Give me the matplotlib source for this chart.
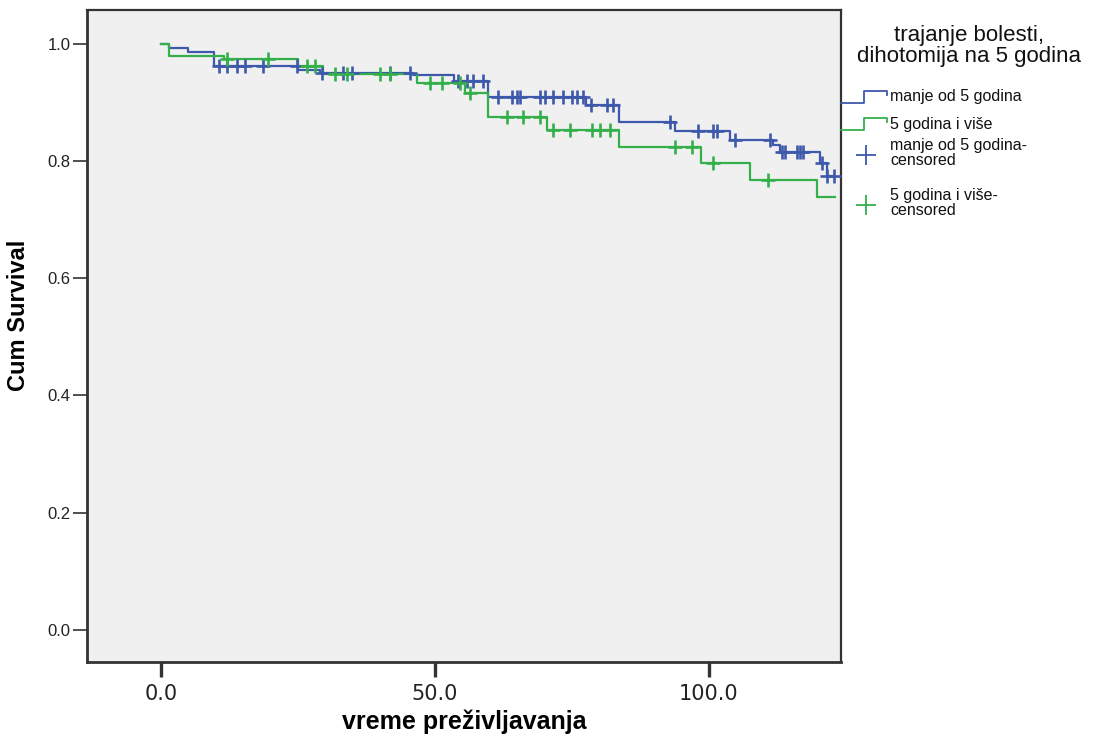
import numpy as np
import matplotlib
matplotlib.use("Agg")
import matplotlib.pyplot as plt
from matplotlib.lines import Line2D

# Kaplan-Meier estimates: event times and survival after each event
blue_event_t = [1.5, 4.9, 9.6, 25.0, 29.0, 46.0, 53.5, 59.7, 77.5, 83.5,
                93.8, 103.8, 111.7, 113.0, 120.3, 121.5]
blue_surv = [0.993, 0.987, 0.962, 0.956, 0.951, 0.947, 0.936, 0.910, 0.896, 0.866,
             0.851, 0.836, 0.828, 0.816, 0.797, 0.774]
blue_end = 122.8
blue_censor_t = [10.5, 12.0, 13.9, 15.3, 18.6, 24.8, 29.4, 33.2, 34.9, 41.8, 45.4,
                 54.2, 55.8, 56.9, 58.8, 61.5, 64.1, 65.0, 65.5, 69.2, 70.1, 71.5,
                 73.4, 75.0, 75.9, 77.0, 78.5, 81.4, 82.5, 92.9, 98.0, 100.7, 101.5,
                 104.7, 111.2, 113.3, 113.9, 116.1, 116.6, 117.2, 120.6, 121.5, 122.8]

green_event_t = [1.5, 11.5, 25.0, 29.5, 46.7, 55.5, 59.7, 70.5, 83.5, 98.5, 107.5, 119.7]
green_surv = [0.980, 0.974, 0.962, 0.948, 0.933, 0.917, 0.876, 0.853, 0.824, 0.797,
              0.768, 0.739]
green_end = 123.0
green_censor_t = [12.0, 19.5, 26.6, 28.1, 31.8, 33.9, 40.0, 41.8, 49.1, 51.3, 54.6,
                  56.4, 63.1, 66.1, 69.2, 71.5, 74.6, 78.6, 80.1, 81.9, 93.8, 96.9,
                  100.7, 110.8]

group_labels = ["manje od 5 godina", "5 godina i više"]
censor_labels = ["manje od 5 godina-\ncensored", "5 godina i više-\ncensored"]
legend_title = "trajanje bolesti,\ndihotomija na 5 godina"
x_ticks = [0.0, 50.0, 100.0]
y_ticks = [0.0, 0.2, 0.4, 0.6, 0.8, 1.0]

BLUE = "#3E58AC"
GREEN = "#33B04A"


def step_curve(times, surv, end):
    t = np.concatenate([[0.0], times, [end]])
    s = np.concatenate([[1.0], surv, [surv[-1]]])
    return t, s


def surv_at(times, surv, query):
    times = np.asarray(times)
    surv = np.asarray(surv)
    out = []
    for q in query:
        idx = np.searchsorted(times, q, side="right") - 1
        out.append(1.0 if idx < 0 else surv[idx])
    return np.array(out)


fig = plt.figure(figsize=(10.97, 7.37), dpi=100)
ax = fig.add_axes([87 / 1097, 1 - 662 / 737, (841 - 87) / 1097, (662 - 10) / 737])
ax.set_facecolor("#F0F0F0")

for times, surv, end, cens, col in [
    (blue_event_t, blue_surv, blue_end, blue_censor_t, BLUE),
    (green_event_t, green_surv, green_end, green_censor_t, GREEN),
]:
    t, s = step_curve(times, surv, end)
    ax.step(t, s, where="post", color=col, lw=1.6, zorder=3)
    ax.plot(cens, surv_at(times, surv, cens), linestyle="none", marker="+",
            markersize=10, mew=1.9, color=col, zorder=4)

ax.set_xlim(-13.5, 124.1)
ax.set_ylim(-0.055, 1.058)
ax.set_xticks(x_ticks)
ax.set_xticklabels([f"{v:.1f}" for v in x_ticks], fontsize=15,
                   family="DejaVu Sans", color="#222222")
ax.set_yticks(y_ticks)
ax.set_yticklabels([f"{v:.1f}" for v in y_ticks], fontsize=12,
                   family="Liberation Sans", color="#222222")
ax.tick_params(axis="y", length=10, width=1.2, color="#333333", pad=2)
ax.tick_params(axis="x", length=11, width=2.4, color="#333333", pad=5)

for side in ["left", "bottom"]:
    ax.spines[side].set_linewidth(2.0)
    ax.spines[side].set_color("#333333")
for side in ["top", "right"]:
    ax.spines[side].set_linewidth(1.6)
    ax.spines[side].set_color("#333333")

ax.set_xlabel("vreme preživljavanja", fontsize=18, fontweight="bold",
              family="Liberation Sans")
ax.set_ylabel("Cum Survival", fontsize=17, fontweight="bold",
              family="Liberation Sans")
ax.xaxis.set_label_coords(0.5, (662 - 722) / 652)
ax.yaxis.set_label_coords((19 - 87) / 754, (662 - 315) / 652)
ax.xaxis.label.set_va("center")
ax.yaxis.label.set_va("center")

# Legend drawn to the right of the plot area, in figure pixel coordinates
W, H = 1097, 737


def fx(px):
    return px / W


def fy(py):
    return 1 - py / H


fig.text(fx(969), fy(46), legend_title, ha="center", va="center", fontsize=16,
         family="Liberation Sans", linespacing=1.0, color="#111111")

for i, (lab, col) in enumerate(zip(group_labels, [BLUE, GREEN])):
    y0 = 97 + 27 * i
    xs = [841, 864, 864, 887, 887]
    ys = [y0 + 6, y0 + 6, y0 - 6, y0 - 6, y0 - 2]
    fig.add_artist(Line2D([fx(v) for v in xs], [fy(v) for v in ys], color=col, lw=1.3))
    fig.text(fx(890), fy(y0), lab, ha="left", va="center", fontsize=11.5,
             family="Liberation Sans", color="#111111")

for i, (lab, col) in enumerate(zip(censor_labels, [BLUE, GREEN])):
    yc = 155 + 50 * i
    fig.add_artist(Line2D([fx(866)], [fy(yc)], marker="+", markersize=14, mew=1.3,
                          color=col, linestyle="none"))
    fig.text(fx(890), fy(yc - 2), lab, ha="left", va="center", fontsize=11.5,
             family="Liberation Sans", linespacing=0.95, color="#111111")

fig.savefig("out.png", dpi=100, facecolor="white")
